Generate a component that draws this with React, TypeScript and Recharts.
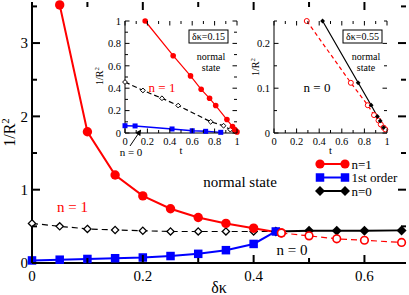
import React from 'react';
import { LineChart, Line, XAxis, YAxis, Legend, Label } from 'recharts';

const FONT = '"Liberation Serif", "Times New Roman", serif';
const RED = '#ff0000';
const BLUE = '#0000ff';
const BLACK = '#000000';

// main panel: 1/R^2 against δκ
const dkN1 = [0.05, 0.1, 0.15, 0.2, 0.25, 0.3, 0.35, 0.4, 0.45];
const rN1 = [3.52, 1.79, 1.2, 0.915, 0.74, 0.62, 0.54, 0.475, 0.41];
const dkN1Open = [0.45, 0.5, 0.55, 0.6, 0.667];
const rN1Open = [0.41, 0.37, 0.33, 0.31, 0.28];
const dkFirst = [0, 0.05, 0.1, 0.15, 0.2, 0.25, 0.3, 0.35, 0.4, 0.44];
const rFirst = [0.035, 0.045, 0.055, 0.065, 0.075, 0.095, 0.125, 0.175, 0.26, 0.43];
const dkN0Open = [0, 0.05, 0.1, 0.15, 0.2, 0.25, 0.3, 0.35, 0.4, 0.44];
const rN0Open = [0.54, 0.5, 0.465, 0.45, 0.44, 0.43, 0.43, 0.43, 0.43, 0.43];
const dkN0 = [0.44, 0.5, 0.55, 0.6, 0.667];
const rN0 = [0.43, 0.44, 0.44, 0.44, 0.445];

const mainXMajors = [0, 0.2, 0.4, 0.6];
const mainXMinors = [0.1, 0.3, 0.5];
const mainYMajors = [0, 1, 2, 3];
const mainYMinors = [0.5, 1.5, 2.5, 3.5];

// inset δκ=0.15
const tN1a = [0.18, 0.43, 0.585, 0.68, 0.755, 0.81, 0.91, 0.96, 0.98, 1.0];
const rN1a = [1.0, 0.69, 0.51, 0.39, 0.31, 0.245, 0.12, 0.058, 0.03, 0.01];
const tN0a = [0, 0.16, 0.33, 0.475, 0.765, 0.88, 0.94, 0.98];
const rN0a = [0.455, 0.38, 0.31, 0.245, 0.1, 0.065, 0.03, 0.015];
const tFirstA = [0, 0.09, 0.42, 0.6, 0.72, 0.855];
const rFirstA = [0.065, 0.063, 0.036, 0.02, 0.015, 0.006];

// inset δκ=0.55
const tN0b = [0.43, 0.745, 0.86, 0.915, 0.94, 0.97];
const rN0b = [0.25, 0.112, 0.062, 0.037, 0.027, 0.012];
const tN1b = [0.29, 0.68, 0.83, 0.885, 0.925, 0.945, 0.97, 0.985];
const rN1b = [0.25, 0.112, 0.062, 0.04, 0.028, 0.019, 0.012, 0.008];

const tMajors = [0, 0.2, 0.4, 0.6, 0.8, 1];
const tMinors = [0.1, 0.3, 0.5, 0.7, 0.9];
const yMajorsB = [0, 0.1, 0.2];
const yMinorsB = [0.05, 0.15, 0.25];

type Pt = { x: number; y: number };
const zip = (xs: number[], ys: number[]): Pt[] => xs.map((x, i) => ({ x, y: ys[i] }));

// marker shapes
const circleDot = (r: number, fill: string, stroke: string, sw: number) => (p: any) => (
  <circle key={`c${p.index}`} cx={p.cx} cy={p.cy} r={r} fill={fill} stroke={stroke} strokeWidth={sw} />
);
const squareDot = (s: number, fill: string) => (p: any) => (
  <rect key={`s${p.index}`} x={p.cx - s / 2} y={p.cy - s / 2} width={s} height={s} fill={fill} />
);
const diamondDot = (h: number, fill: string, sw: number) => (p: any) => (
  <polygon
    key={`d${p.index}`}
    points={`${p.cx},${p.cy - h} ${p.cx + h},${p.cy} ${p.cx},${p.cy + h} ${p.cx - h},${p.cy}`}
    fill={fill}
    stroke={BLACK}
    strokeWidth={sw}
  />
);

const yLabel = (fs: number, dx: number, dy: number) => (props: any) => {
  const vb = props.viewBox || {};
  const cx = vb.x + dx;
  const cy = vb.y + vb.height / 2 + dy;
  return (
    <text x={cx} y={cy} transform={`rotate(-90 ${cx} ${cy})`} textAnchor="middle" fontSize={fs} fontFamily={FONT} fill={BLACK}>
      1/R<tspan dy={-fs * 0.4} fontSize={fs * 0.68}>2</tspan>
    </text>
  );
};

const xLabel = (text: string, fs: number, dy: number) => (props: any) => {
  const vb = props.viewBox || {};
  return (
    <text x={vb.x + vb.width / 2} y={vb.y + dy} textAnchor="middle" fontSize={fs} fontFamily={FONT} fill={BLACK}>
      {text}
    </text>
  );
};

interface FrameCfg {
  w: number;
  h: number;
  top: number;
  right: number;
  xDomain: [number, number];
  yDomain: [number, number];
  xMaj: number[];
  xMin: number[];
  yMaj: number[];
  yMin: number[];
  fs: number;
  lw: number;
  major: number;
  minor: number;
  xMargin: number;
  yMargin: number;
  xHeight: number;
  yWidth: number;
  xLab: React.ReactElement;
  yLab: React.ReactElement;
}

// four framing axes, labels on bottom and left only
function frameAxes(c: FrameCfg) {
  const line = { stroke: BLACK, strokeWidth: c.lw };
  const base = { type: 'number' as const, interval: 0 as const, tickLine: false, tickSize: 0 };
  const text = { fontSize: c.fs, fontFamily: FONT, fill: BLACK };
  const fmt = (v: number) => String(v);
  return [
    <XAxis key="xb" xAxisId="b" dataKey="x" domain={c.xDomain} ticks={c.xMaj} height={c.xHeight} tickMargin={c.xMargin} tick={text} tickFormatter={fmt} axisLine={line} label={c.xLab} {...base} />,
    <XAxis key="xt" xAxisId="t" orientation="top" dataKey="x" domain={c.xDomain} ticks={c.xMaj} height={0} tick={false} axisLine={line} {...base} />,
    <YAxis key="yl" yAxisId="l" domain={c.yDomain} ticks={c.yMaj} width={c.yWidth} tickMargin={c.yMargin} tick={text} tickFormatter={fmt} axisLine={line} label={c.yLab} {...base} />,
    <YAxis key="yr" yAxisId="r" orientation="right" domain={c.yDomain} ticks={c.yMaj} width={0} tick={false} axisLine={line} {...base} />,
  ];
}

// inward tick marks on all four sides of a frame, laid over the chart
function TickMarks({ c }: { c: FrameCfg }) {
  const left = c.yWidth;
  const top = c.top;
  const pw = c.w - c.yWidth - c.right;
  const ph = c.h - c.top - c.xHeight;
  const [x0, x1] = c.xDomain;
  const [y0, y1] = c.yDomain;
  const sx = (v: number) => left + ((v - x0) / (x1 - x0)) * pw;
  const sy = (v: number) => top + ph - ((v - y0) / (y1 - y0)) * ph;
  const marks: React.ReactElement[] = [];
  [...c.xMaj, ...c.xMin].forEach((v) => {
    const len = c.xMaj.includes(v) ? c.major : c.minor;
    const x = sx(v);
    marks.push(<line key={`b${v}`} x1={x} x2={x} y1={top + ph} y2={top + ph - len} />);
    marks.push(<line key={`t${v}`} x1={x} x2={x} y1={top} y2={top + len} />);
  });
  [...c.yMaj, ...c.yMin].forEach((v) => {
    const len = c.yMaj.includes(v) ? c.major : c.minor;
    const y = sy(v);
    marks.push(<line key={`l${v}`} x1={left} x2={left + len} y1={y} y2={y} />);
    marks.push(<line key={`r${v}`} x1={left + pw} x2={left + pw - len} y1={y} y2={y} />);
  });
  return (
    <svg width={c.w} height={c.h} style={{ position: 'absolute', left: 0, top: 0, pointerEvents: 'none' }}>
      <g stroke={BLACK} strokeWidth={c.lw}>{marks}</g>
    </svg>
  );
}

const legendItems = [
  { name: 'n=1', color: RED, dot: circleDot(4.6, RED, RED, 0) },
  { name: '1st order', color: BLUE, dot: squareDot(8.5, BLUE) },
  { name: 'n=0', color: BLACK, dot: diamondDot(5, BLACK, 0) },
];

function LegendBox() {
  return (
    <svg width={96} height={44}>
      {legendItems.map((it, i) => {
        const cy = 9 + i * 13.5;
        return (
          <g key={it.name}>
            <line x1={7} y1={cy} x2={32} y2={cy} stroke={it.color} strokeWidth={2} />
            {it.dot({ cx: 7, cy, index: 0 })}
            {it.dot({ cx: 32, cy, index: 1 })}
            <text x={38.5} y={cy + 4.5} fontSize={13} fontFamily={FONT} fill={BLACK}>
              {it.name}
            </text>
          </g>
        );
      })}
    </svg>
  );
}

const series = { xAxisId: 'b', yAxisId: 'l', dataKey: 'y', type: 'linear' as const, activeDot: false, isAnimationActive: false };

const mainCfg: FrameCfg = {
  w: 409,
  h: 295,
  top: 2,
  right: 3,
  xDomain: [0, 0.675],
  yDomain: [0, 3.56],
  xMaj: mainXMajors,
  xMin: mainXMinors,
  yMaj: mainYMajors,
  yMin: mainYMinors,
  fs: 15,
  lw: 2,
  major: 8,
  minor: 5,
  xMargin: 7,
  yMargin: 4,
  xHeight: 32,
  yWidth: 32,
  xLab: <Label content={xLabel('δκ', 16, 30)} />,
  yLab: <Label content={yLabel(16, 15, 0)} />,
};

const insetBase = {
  h: 150,
  top: 6,
  xDomain: [0, 1] as [number, number],
  xMaj: tMajors,
  xMin: tMinors,
  fs: 10.5,
  lw: 1,
  major: 4.5,
  minor: 3,
  xMargin: 4.5,
  yMargin: 4,
  xHeight: 32,
  xLab: <Label content={xLabel('t', 10.5, 21)} />,
};

const lowCfg: FrameCfg = {
  ...insetBase,
  w: 157,
  right: 8,
  yDomain: [0, 1],
  yMaj: tMajors,
  yMin: tMinors,
  yWidth: 37,
  yLab: <Label content={yLabel(10, 14.5, -1)} />,
};

const highCfg: FrameCfg = {
  ...insetBase,
  w: 155,
  right: 12,
  yDomain: [0, 0.25],
  yMaj: yMajorsB,
  yMin: yMinorsB,
  yWidth: 30,
  yLab: <Label content={yLabel(10, 14.5, -10)} />,
};

const chartMargin = (c: FrameCfg) => ({ top: c.top, right: c.right, bottom: 0, left: 0 });

function MainPanel() {
  return (
    <div style={{ position: 'absolute', left: 0, top: 0 }}>
      <LineChart width={mainCfg.w} height={mainCfg.h} margin={chartMargin(mainCfg)}>
        {frameAxes(mainCfg)}
        <Line {...series} data={zip(dkN0Open, rN0Open)} stroke={BLACK} strokeWidth={1.2} strokeDasharray="6 4" dot={diamondDot(3.6, '#fff', 1.3)} />
        <Line {...series} data={zip(dkN0, rN0)} stroke={BLACK} strokeWidth={2} dot={diamondDot(5, BLACK, 0)} />
        <Line {...series} data={zip(dkN1, rN1)} stroke={RED} strokeWidth={2} dot={circleDot(4.7, RED, RED, 0)} />
        <Line {...series} data={zip(dkFirst, rFirst)} stroke={BLUE} strokeWidth={2} dot={squareDot(8.5, BLUE)} />
        <Line {...series} data={zip(dkN1Open, rN1Open)} stroke={RED} strokeWidth={1.2} strokeDasharray="6 4" dot={circleDot(3.8, '#fff', RED, 1.6)} />
        <Legend
          layout="horizontal"
          verticalAlign="middle"
          align="center"
          content={() => <LegendBox />}
          wrapperStyle={{ left: 313, top: 155, width: 96, height: 44 }}
        />
      </LineChart>
      <TickMarks c={mainCfg} />
    </div>
  );
}

function InsetLow() {
  return (
    <div style={{ position: 'absolute', left: 88, top: 15 }}>
      <LineChart width={lowCfg.w} height={lowCfg.h} margin={chartMargin(lowCfg)}>
        {frameAxes(lowCfg)}
        <Line {...series} data={zip(tN0a, rN0a)} stroke={BLACK} strokeWidth={1.2} strokeDasharray="5 3" dot={diamondDot(2.4, '#fff', 1)} />
        <Line {...series} data={zip(tFirstA, rFirstA)} stroke={BLUE} strokeWidth={1.4} dot={squareDot(5, BLUE)} />
        <Line {...series} data={zip(tN1a, rN1a)} stroke={RED} strokeWidth={1.2} dot={circleDot(2.8, RED, RED, 0)} />
      </LineChart>
      <TickMarks c={lowCfg} />
    </div>
  );
}

function InsetHigh() {
  return (
    <div style={{ position: 'absolute', left: 244, top: 15 }}>
      <LineChart width={highCfg.w} height={highCfg.h} margin={chartMargin(highCfg)}>
        {frameAxes(highCfg)}
        <Line {...series} data={zip(tN1b, rN1b)} stroke={RED} strokeWidth={1.2} strokeDasharray="4 3" dot={circleDot(2.5, '#fff', RED, 1)} />
        <Line {...series} data={zip(tN0b, rN0b)} stroke={BLACK} strokeWidth={1.2} dot={diamondDot(2.4, BLACK, 0)} />
      </LineChart>
      <TickMarks c={highCfg} />
    </div>
  );
}

function Notes() {
  const t = { fontFamily: FONT, fill: BLACK };
  return (
    <svg width={409} height={295} style={{ position: 'absolute', left: 0, top: 0, pointerEvents: 'none' }}>
      <defs>
        <marker id="ah" markerWidth="6" markerHeight="6" refX="5" refY="3" orient="auto" markerUnits="userSpaceOnUse">
          <path d="M0,0 L6,3 L0,6 z" fill={BLACK} />
        </marker>
      </defs>
      <text x={240} y={187} textAnchor="middle" fontSize={15} {...t}>normal state</text>
      <text x={72.5} y={212} textAnchor="middle" fontSize={15} {...t} fill={RED}>n = 1</text>
      <text x={292} y={255} textAnchor="middle" fontSize={15} {...t}>n = 0</text>

      <rect x={189} y={30} width={39} height={13} fill="#fff" stroke={BLACK} strokeWidth={1} />
      <text x={208.5} y={40.3} textAnchor="middle" fontSize={10} {...t}>δκ=0.15</text>
      <text x={211} y={60} textAnchor="middle" fontSize={10} {...t}>normal</text>
      <text x={211} y={71} textAnchor="middle" fontSize={10} {...t}>state</text>
      <text x={162} y={92} textAnchor="middle" fontSize={13} {...t} fill={RED}>n = 1</text>
      <line x1={130} y1={146} x2={140.6} y2={130.3} stroke={BLACK} strokeWidth={1} markerEnd="url(#ah)" />
      <text x={131} y={156} textAnchor="middle" fontSize={11} {...t}>n = 0</text>

      <rect x={343} y={30} width={39} height={13} fill="#fff" stroke={BLACK} strokeWidth={1} />
      <text x={362.5} y={40.3} textAnchor="middle" fontSize={10} {...t}>δκ=0.55</text>
      <text x={366} y={60} textAnchor="middle" fontSize={10} {...t}>normal</text>
      <text x={366} y={71} textAnchor="middle" fontSize={10} {...t}>state</text>
      <text x={317} y={92} textAnchor="middle" fontSize={13} {...t}>n = 0</text>
    </svg>
  );
}

export default function App() {
  return (
    <div style={{ position: 'absolute', left: 0, top: 0, width: 409, height: 295, background: '#fff' }}>
      <MainPanel />
      <InsetLow />
      <InsetHigh />
      <Notes />
    </div>
  );
}
